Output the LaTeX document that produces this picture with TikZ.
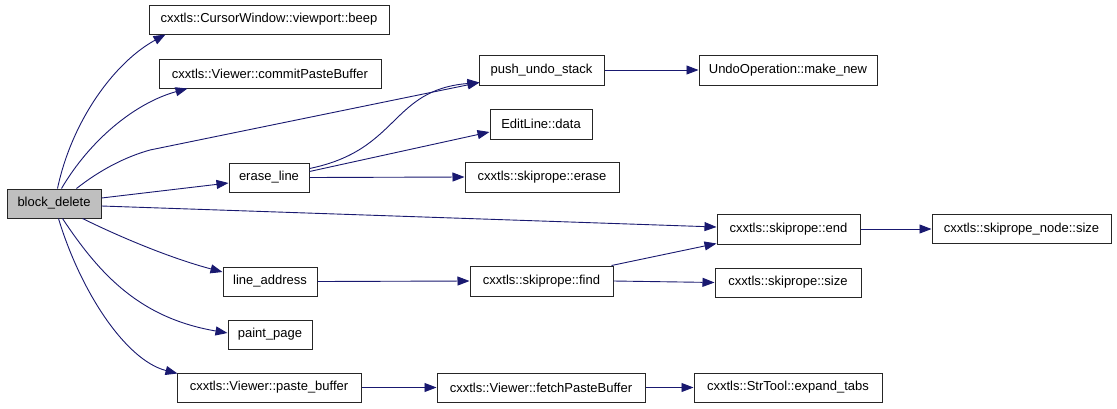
\documentclass[tikz,border=0pt]{standalone}
\usepackage{fontspec}
\setmainfont{Liberation Sans}
\usetikzlibrary{arrows.meta,calc}
\definecolor{edgecol}{HTML}{191970}
\definecolor{boxgray}{HTML}{BFBFBF}
\tikzset{
  box/.style={draw=black!85, line width=1pt, fill=white, rectangle, inner sep=0pt,
    minimum height=30pt, font=\fontsize{13}{15}\selectfont},
  edge/.style={draw=edgecol, line width=0.9pt, -{Triangle[length=12pt,width=9pt]}}
}
\begin{document}
\begin{tikzpicture}[x=1pt,y=-1pt]
\useasboundingbox[fill=white] (0,0) rectangle (1117,408);
\node[box, fill=boxgray, minimum width=94pt, minimum height=29pt] (bd) at (54,203.5) {block\_delete};
\node[box, minimum width=240pt, minimum height=29pt] (beep) at (269,19.5) {cxxtls::CursorWindow::viewport::beep};
\node[box, minimum width=222pt, minimum height=29pt] (commit) at (270,73.5) {cxxtls::Viewer::commitPasteBuffer};
\node[box, minimum width=125pt] (push) at (541.5,70) {push\_undo\_stack};
\node[box, minimum width=178pt] (make) at (788,70) {UndoOperation::make\_new};
\node[box, minimum width=102pt] (data) at (541,124) {EditLine::data};
\node[box, minimum width=80pt, minimum height=29pt] (el) at (269,177.5) {erase\_line};
\node[box, minimum width=154pt] (serase) at (542,177) {cxxtls::skiprope::erase};
\node[box, minimum width=143pt] (send) at (788.5,229) {cxxtls::skiprope::end};
\node[box, minimum width=179pt, minimum height=29pt] (nsize) at (1021.5,229) {cxxtls::skiprope\_node::size};
\node[box, minimum width=94pt, minimum height=29pt] (la) at (270,281.5) {line\_address};
\node[box, minimum width=143pt] (find) at (541.5,281) {cxxtls::skiprope::find};
\node[box, minimum width=146pt, minimum height=29pt] (ssize) at (788,282.5) {cxxtls::skiprope::size};
\node[box, minimum width=84pt, minimum height=29pt] (pp) at (270,334.5) {paint\_page};
\node[box, minimum width=184pt, minimum height=29pt] (pb) at (269,387.5) {cxxtls::Viewer::paste\_buffer};
\node[box, minimum width=208pt, minimum height=29pt] (fetch) at (541,387.5) {cxxtls::Viewer::fetchPasteBuffer};
\node[box, minimum width=188pt, minimum height=29pt] (expand) at (788,387.5) {cxxtls::StrTool::expand\_tabs};

\draw[edge] ($(bd.north west)+(51,0)$) .. controls (72,120) and (115,62) .. ($(beep.south west)+(17,0)$);
\draw[edge] ($(bd.north west)+(55,0)$) .. controls (90,140) and (135,103) .. ($(commit.south west)+(29,0)$);
\draw[edge] ($(bd.north west)+(70,0)$) .. controls (100,170) and (125,157) .. (150,150) -- ($(push.south west)+(1,-3)$);
\draw[edge] ($(bd.east)+(0,-5.5)$) -- ($(el.west)+(0,5.5)$);
\draw[edge] ($(bd.east)+(0,2.5)$) -- ($(send.west)+(0,-2)$);
\draw[edge] ($(bd.south west)+(76,0)$) .. controls (120,237) and (170,258) .. ($(la.west)+(0,-9.5)$);
\draw[edge] ($(bd.south west)+(56,0)$) .. controls (100,275) and (140,318) .. ($(pp.west)+(0,-1.5)$);
\draw[edge] ($(bd.south west)+(52,0)$) .. controls (80,290) and (125,360) .. ($(pb.north west)+(1,1)$);
\draw[edge] ($(el.east)+(0,-9)$) .. controls (400,150) and (390,90) .. ($(push.south west)+(1,-3)$);
\draw[edge] ($(el.east)+(0,-6)$) -- ($(data.west)+(0,8)$);
\draw[edge] (el.east) -- (serase.west);
\draw[edge] (push.east) -- (make.west);
\draw[edge] (send.east) -- (nsize.west);
\draw[edge] (la.east) -- (find.west);
\draw[edge] ($(find.north east)+(-2,0)$) -- ($(send.south west)+(0,-1)$);
\draw[edge] (find.east) -- (ssize.west);
\draw[edge] (pb.east) -- (fetch.west);
\draw[edge] (fetch.east) -- (expand.west);
\end{tikzpicture}
\end{document}
